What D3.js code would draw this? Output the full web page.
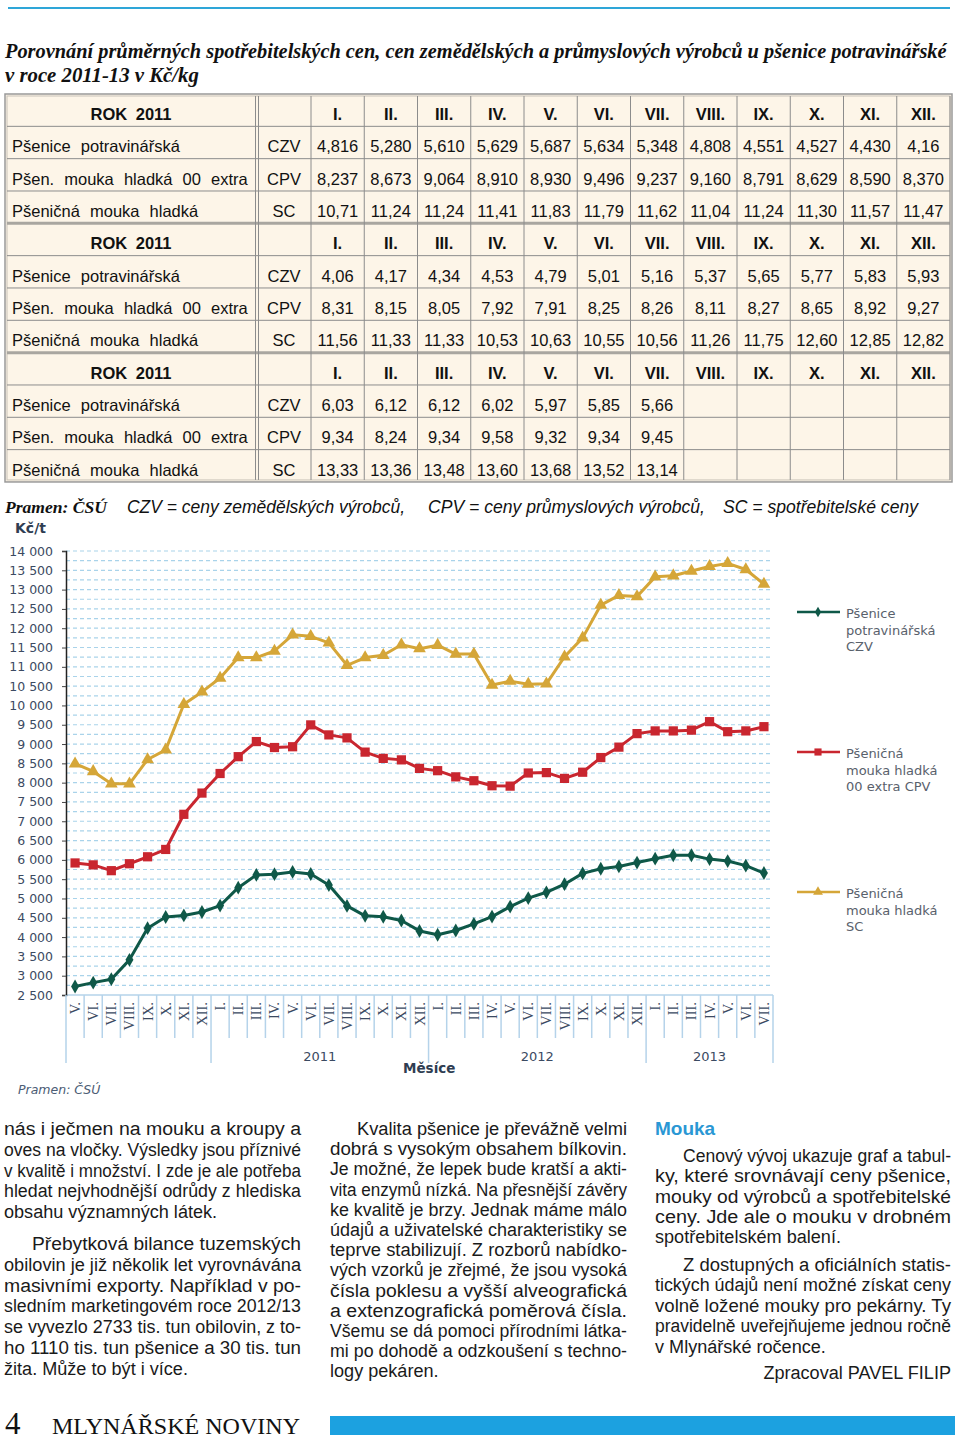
<!DOCTYPE html>
<html><head><meta charset="utf-8">
<script src="https://cdn.jsdelivr.net/npm/d3@7"></script>
<style>body{margin:0;background:#fff}svg{display:block}</style>
</head><body>
<svg id="page" width="960" height="1442"></svg>
<script>
// ---------------- DATA ----------------
const titleLines = ["Porovnání průměrných spotřebitelských cen, cen zemědělských a průmyslových výrobců u pšenice potravinářské", "v roce 2011-13 v Kč/kg"];
const monthHeads = ["I.","II.","III.","IV.","V.","VI.","VII.","VIII.","IX.","X.","XI.","XII."];
const blockTitles = ["ROK 2011","ROK 2011","ROK 2011"];
const rowNames = ["Pšenice potravinářská","Pšen. mouka hladká 00 extra","Pšeničná mouka hladká"];
const rowCodes = ["CZV","CPV","SC"];
const table2011 = [
  ["4,816","5,280","5,610","5,629","5,687","5,634","5,348","4,808","4,551","4,527","4,430","4,16"],
  ["8,237","8,673","9,064","8,910","8,930","9,496","9,237","9,160","8,791","8,629","8,590","8,370"],
  ["10,71","11,24","11,24","11,41","11,83","11,79","11,62","11,04","11,24","11,30","11,57","11,47"]];
const table2012 = [
  ["4,06","4,17","4,34","4,53","4,79","5,01","5,16","5,37","5,65","5,77","5,83","5,93"],
  ["8,31","8,15","8,05","7,92","7,91","8,25","8,26","8,11","8,27","8,65","8,92","9,27"],
  ["11,56","11,33","11,33","10,53","10,63","10,55","10,56","11,26","11,75","12,60","12,85","12,82"]];
const table2013 = [
  ["6,03","6,12","6,12","6,02","5,97","5,85","5,66","","","","",""],
  ["9,34","8,24","9,34","9,58","9,32","9,34","9,45","","","","",""],
  ["13,33","13,36","13,48","13,60","13,68","13,52","13,14","","","","",""]];
const sourceNote = "Pramen: ČSÚ";
const abbrevNotes = ["CZV = ceny zemědělských výrobců,","CPV = ceny průmyslových výrobců,","SC = spotřebitelské ceny"];

// chart (Kč/t), months V/2010 .. VII/2013
const monthLabels = ["V.","VI.","VII.","VIII.","IX.","X.","XI.","XII.",
  "I.","II.","III.","IV.","V.","VI.","VII.","VIII.","IX.","X.","XI.","XII.",
  "I.","II.","III.","IV.","V.","VI.","VII.","VIII.","IX.","X.","XI.","XII.",
  "I.","II.","III.","IV.","V.","VI.","VII."];
const yearNames = ["","2011","2012","2013"];
const yearMonthCounts = [8,12,12,7];
const czvSeries = [2720,2820,2910,3410,4230,4520,4560,4650,
  4816,5280,5610,5629,5687,5634,5348,4808,4551,4527,4430,4160,
  4060,4170,4340,4530,4790,5010,5160,5370,5650,5770,5830,5930,
  6030,6120,6120,6020,5970,5850,5660];
const cpvSeries = [5920,5870,5720,5900,6080,6270,7180,7730,
  8237,8673,9064,8910,8930,9496,9237,9160,8791,8629,8590,8370,
  8310,8150,8050,7920,7910,8250,8260,8110,8270,8650,8920,9270,
  9340,9340,9360,9580,9320,9340,9450];
const scSeries = [8490,8290,7970,7970,8600,8850,10030,10350,
  10710,11240,11240,11410,11830,11790,11620,11040,11240,11300,11570,11470,
  11560,11330,11330,10530,10630,10550,10560,11260,11750,12600,12850,12820,
  13330,13360,13480,13600,13680,13520,13140];
const yTicks = d3.range(2500, 14001, 500);
const legendLabels = [["Pšenice","potravinářská","CZV"],["Pšeničná","mouka hladká","00 extra CPV"],["Pšeničná","mouka hladká","SC"]];
const chartTexts = {unit:"Kč/t", xTitle:"Měsíce", source:"Pramen: ČSÚ"};

// body text
const col1Paras = [
  ["nás i ječmen na mouku a kroupy a","oves na vločky. Výsledky jsou příznivé","v kvalitě i množství. I zde je ale potřeba","hledat nejvhodnější odrůdy z hlediska","obsahu významných látek."],
  ["Přebytková bilance tuzemských","obilovin je již několik let vyrovnávána","masivními exporty. Například v po-","sledním marketingovém roce 2012/13","se vyvezlo 2733 tis. tun obilovin, z to-","ho 1110 tis. tun pšenice a 30 tis. tun","žita. Může to být i více."]];
const col2Paras = [
  ["Kvalita pšenice je převážně velmi","dobrá s vysokým obsahem bílkovin.","Je možné, že lepek bude kratší a akti-","vita enzymů nízká. Na přesnější závěry","ke kvalitě je brzy. Jednak máme málo","údajů a uživatelské charakteristiky se","teprve stabilizují. Z rozborů nabídko-","vých vzorků je zřejmé, že jsou vysoká","čísla poklesu a vyšší alveografická","a extenzografická poměrová čísla.","Všemu se dá pomoci přírodními látka-","mi po dohodě a odzkoušení s techno-","logy pekáren."]];
const col3Heading = "Mouka";
const col3Paras = [
  ["Cenový vývoj ukazuje graf a tabul-","ky, které srovnávají ceny pšenice,","mouky od výrobců a spotřebitelské","ceny. Jde ale o mouku v drobném","spotřebitelském balení."],
  ["Z dostupných a oficiálních statis-","tických údajů není možné získat ceny","volně ložené mouky pro pekárny. Ty","pravidelně uveřejňujeme jednou ročně","v Mlynářské ročence."]];
const signature = "Zpracoval PAVEL FILIP";
const footerPage = "4";
const footerName = "MLYNÁŘSKÉ NOVINY";

// ---------------- DRAW ----------------
const svg = d3.select("#page");
const SANS = "'Liberation Sans', Arial, sans-serif";
const SERIF = "'Liberation Serif', 'Times New Roman', serif";
const VERD = "'DejaVu Sans', Verdana, sans-serif";

svg.append("rect").attr("x",8).attr("y",7).attr("width",942).attr("height",2).attr("fill","#2ea6d8");

// title (horizontally condensed with a scale transform)
[[58,942],[82,194]].forEach(([yy,w],i)=>{
  const t = svg.append("text").attr("x",0).attr("y",0)
    .attr("font-family",SERIF).attr("font-weight","bold").attr("font-style","italic")
    .attr("font-size",21).attr("fill","#111").text(titleLines[i]);
  const nat = t.node().getComputedTextLength();
  t.attr("transform",`translate(5,${yy}) scale(${w/nat},1)`);
});

// table
const T = {x0:5, x1:952, y0:94, rowH:32.33, c1:257, c2:311, right:950};
const monthW = (T.right - T.c2)/12;
const tg = svg.append("g");
tg.append("rect").attr("x",T.x0).attr("y",T.y0).attr("width",T.x1-T.x0).attr("height",12*T.rowH)
  .attr("fill","#fdf5e8").attr("stroke","#999").attr("stroke-width",1.5);
tg.append("rect").attr("x",T.x0+2).attr("y",T.y0+2).attr("width",T.x1-T.x0-4).attr("height",12*T.rowH-4)
  .attr("fill","none").attr("stroke","#c8c2b8").attr("stroke-width",1);
for(let r=1;r<12;r++){
  const yy=T.y0+r*T.rowH;
  const thick = (r===4||r===8);
  tg.append("line").attr("x1",T.x0+2).attr("x2",T.x1-2).attr("y1",yy).attr("y2",yy)
    .attr("stroke",thick?"#a9a6a0":"#8c8c8c").attr("stroke-width",thick?3:1);
}
const vx=[T.c1-1.5,T.c1+1.5,T.c2];
for(let m=1;m<12;m++) vx.push(T.c2+m*monthW);
vx.push(T.right);
vx.forEach(x=>tg.append("line").attr("x1",x).attr("x2",x).attr("y1",T.y0+2).attr("y2",T.y0+12*T.rowH-2)
  .attr("stroke","#8c8c8c").attr("stroke-width",1));
const blocks=[table2011,table2012,table2013];
blocks.forEach((blk,b)=>{
  const hr=b*4;
  const hy=T.y0+hr*T.rowH+26;
  tg.append("text").attr("x",(T.x0+T.c1)/2).attr("y",hy).attr("text-anchor","middle")
    .attr("font-family",SANS).attr("font-weight","bold").attr("font-size",16.5).attr("word-spacing",4)
    .attr("fill","#111").text(blockTitles[b]);
  monthHeads.forEach((m,j)=>tg.append("text").attr("x",T.c2+(j+0.5)*monthW).attr("y",hy)
    .attr("text-anchor","middle").attr("font-family",SANS).attr("font-weight","bold").attr("font-size",16.5)
    .attr("fill","#111").text(m));
  blk.forEach((row,k)=>{
    const yy=T.y0+(hr+1+k)*T.rowH+26;
    tg.append("text").attr("x",12).attr("y",yy).attr("font-family",SANS).attr("font-size",16.5)
      .attr("word-spacing",5.5).attr("fill","#111").text(rowNames[k]);
    tg.append("text").attr("x",(T.c1+T.c2)/2).attr("y",yy).attr("text-anchor","middle")
      .attr("font-family",SANS).attr("font-size",16.5).attr("fill","#111").text(rowCodes[k]);
    row.forEach((v,j)=>tg.append("text").attr("x",T.c2+(j+0.5)*monthW).attr("y",yy)
      .attr("text-anchor","middle").attr("font-family",SANS).attr("font-size",16.5).attr("fill","#111").text(v));
  });
});

// caption
svg.append("text").attr("x",5).attr("y",513).attr("font-family",SERIF).attr("font-weight","bold")
  .attr("font-style","italic").attr("font-size",17).attr("textLength",102).attr("lengthAdjust","spacingAndGlyphs")
  .attr("fill","#111").text(sourceNote);
[[127,278],[428,277],[723,195]].forEach(([x,w],i)=>svg.append("text").attr("x",x).attr("y",513)
  .attr("font-family",SANS).attr("font-style","italic").attr("font-size",17.5).attr("textLength",w)
  .attr("lengthAdjust","spacingAndGlyphs").attr("fill","#111").text(abbrevNotes[i]));

// ---------- chart ----------
const C = {left:66, right:773, top:551, bottom:995};
const axisCol = "#3b4a62";
const x = d3.scaleBand().domain(d3.range(monthLabels.length)).range([C.left,C.right]);
const bw = x.bandwidth();
const y = d3.scaleLinear().domain([2500,14000]).range([C.bottom,C.top]);
const cg = svg.append("g");
cg.append("text").attr("x",15).attr("y",533).attr("font-family",VERD).attr("font-weight","bold")
  .attr("font-size",14).attr("fill","#2f3d52").text(chartTexts.unit);
d3.range(2750,14001,250).forEach(v=>cg.append("line").attr("x1",C.left).attr("x2",C.right)
  .attr("y1",y(v)).attr("y2",y(v)).attr("stroke","#a9d3ea").attr("stroke-width",1.2).attr("stroke-dasharray","4,3"));
cg.append("line").attr("x1",C.left).attr("x2",C.right).attr("y1",C.bottom).attr("y2",C.bottom)
  .attr("stroke","#b5d3ea").attr("stroke-width",1.5);
const ya = cg.append("g").attr("transform",`translate(${C.left},0)`)
  .call(d3.axisLeft(y).tickValues(yTicks).tickSize(4).tickPadding(9)
  .tickFormat(d=>d3.format(",")(d).replace(","," ")));
ya.select(".domain").attr("stroke","#222").attr("stroke-width",1.5);
ya.selectAll(".tick line").attr("stroke","#444");
ya.selectAll(".tick text").attr("font-family",VERD).attr("font-size",12.5).attr("fill",axisCol);
const yearBounds=[0]; yearMonthCounts.reduce((a,c)=>{yearBounds.push(a+c);return a+c;},0);
for(let i=0;i<=monthLabels.length;i++){
  const xx = C.left + i*bw;
  const isYear = yearBounds.includes(i);
  cg.append("line").attr("x1",xx).attr("x2",xx).attr("y1",C.bottom).attr("y2",isYear?1063:1038)
    .attr("stroke","#b5d3ea").attr("stroke-width",1.5);
}
monthLabels.forEach((m,i)=>cg.append("text")
  .attr("transform",`translate(${x(i)+bw/2},1002) rotate(-90)`)
  .attr("text-anchor","end").attr("dominant-baseline","central")
  .attr("font-family",SERIF).attr("font-size",14.5).attr("fill",axisCol).text(m));
yearNames.forEach((yn,k)=>{
  if(!yn) return;
  const s=yearBounds[k], e=yearBounds[k+1];
  cg.append("text").attr("x",C.left+(s+e)/2*bw).attr("y",1061).attr("text-anchor","middle")
    .attr("font-family",VERD).attr("font-size",13).attr("fill",axisCol).text(yn);
});
cg.append("text").attr("x",403).attr("y",1073).attr("font-family",VERD).attr("font-weight","bold")
  .attr("font-size",13.5).attr("fill","#2f3d52").text(chartTexts.xTitle);
cg.append("text").attr("x",18).attr("y",1094).attr("font-family",VERD).attr("font-style","italic")
  .attr("font-size",12.5).attr("fill","#4c5d75").text(chartTexts.source);

const seriesDefs = [
  {data:czvSeries, color:"#0f5848", sym:d3.symbolDiamond, size:55},
  {data:cpvSeries, color:"#c9262f", sym:d3.symbolSquare, size:85},
  {data:scSeries, color:"#d5a638", sym:d3.symbolTriangle, size:70}];
const line = d3.line().x((d,i)=>x(i)+bw/2).y(d=>y(d));
seriesDefs.forEach(s=>{
  cg.append("path").attr("d",line(s.data)).attr("fill","none").attr("stroke",s.color)
    .attr("stroke-width",3).attr("stroke-linejoin","round");
  cg.selectAll(null).data(s.data).enter().append("path")
    .attr("transform",(d,i)=>`translate(${x(i)+bw/2},${y(d)})`)
    .attr("d",d3.symbol().type(s.sym).size(s.size)).attr("fill",s.color);
});
const legY=[612,752,892];
seriesDefs.forEach((s,k)=>{
  const ly=legY[k];
  cg.append("line").attr("x1",797).attr("x2",840).attr("y1",ly).attr("y2",ly).attr("stroke",s.color).attr("stroke-width",2.5);
  cg.append("path").attr("transform",`translate(818,${ly})`).attr("d",d3.symbol().type(s.sym).size(s.size*0.6)).attr("fill",s.color);
  legendLabels[k].forEach((t,j)=>cg.append("text").attr("x",846).attr("y",ly+6+j*16.5)
    .attr("font-family",VERD).attr("font-size",13).attr("fill","#59616c").text(t));
});

// ---------- body text ----------
const bg = svg.append("g").attr("font-family",SANS).attr("font-size",18).attr("fill","#1a1a1a");
const allLines=[];
function drawPara(lines,x0,width,yStart,lh,indent){
  lines.forEach((t,i)=>{
    const ind = i===0?indent:0;
    const el = bg.append("text").attr("x",x0+ind).attr("y",yStart+i*lh).text(t);
    allLines.push({el, w:width-ind, last:i===lines.length-1});
  });
}
drawPara(col1Paras[0],4,297,1135,20.8,0);
drawPara(col1Paras[1],4,297,1250,20.8,28);
drawPara(col2Paras[0],330,297,1135,20.2,27);
drawPara(col3Paras[0],655,296,1162,20.3,28);
drawPara(col3Paras[1],655,296,1271,20.4,28);
const ratios = allLines.filter(l=>!l.last).map(l=>l.w/l.el.node().getComputedTextLength());
const ratio = d3.median(ratios);
allLines.forEach(l=>{
  const nat=l.el.node().getComputedTextLength();
  l.el.attr("textLength", l.last? nat*ratio : l.w).attr("lengthAdjust","spacingAndGlyphs");
});
svg.append("text").attr("x",655).attr("y",1135).attr("font-family",SANS).attr("font-weight","bold")
  .attr("font-size",19).attr("fill","#2a97d4").text(col3Heading);
const sig = bg.append("text").attr("x",951).attr("y",1379).attr("text-anchor","end").text(signature);
sig.attr("textLength",sig.node().getComputedTextLength()*ratio).attr("lengthAdjust","spacingAndGlyphs");

// footer
svg.append("text").attr("x",5).attr("y",1434).attr("font-family",SERIF).attr("font-size",31).attr("fill","#111").text(footerPage);
svg.append("text").attr("x",52).attr("y",1434).attr("font-family",SERIF).attr("font-size",24)
  .attr("textLength",248).attr("lengthAdjust","spacingAndGlyphs").attr("fill","#111").text(footerName);
svg.append("rect").attr("x",330).attr("y",1416).attr("width",625).attr("height",19).attr("fill","#1ca1e0");
</script>
</body></html>
